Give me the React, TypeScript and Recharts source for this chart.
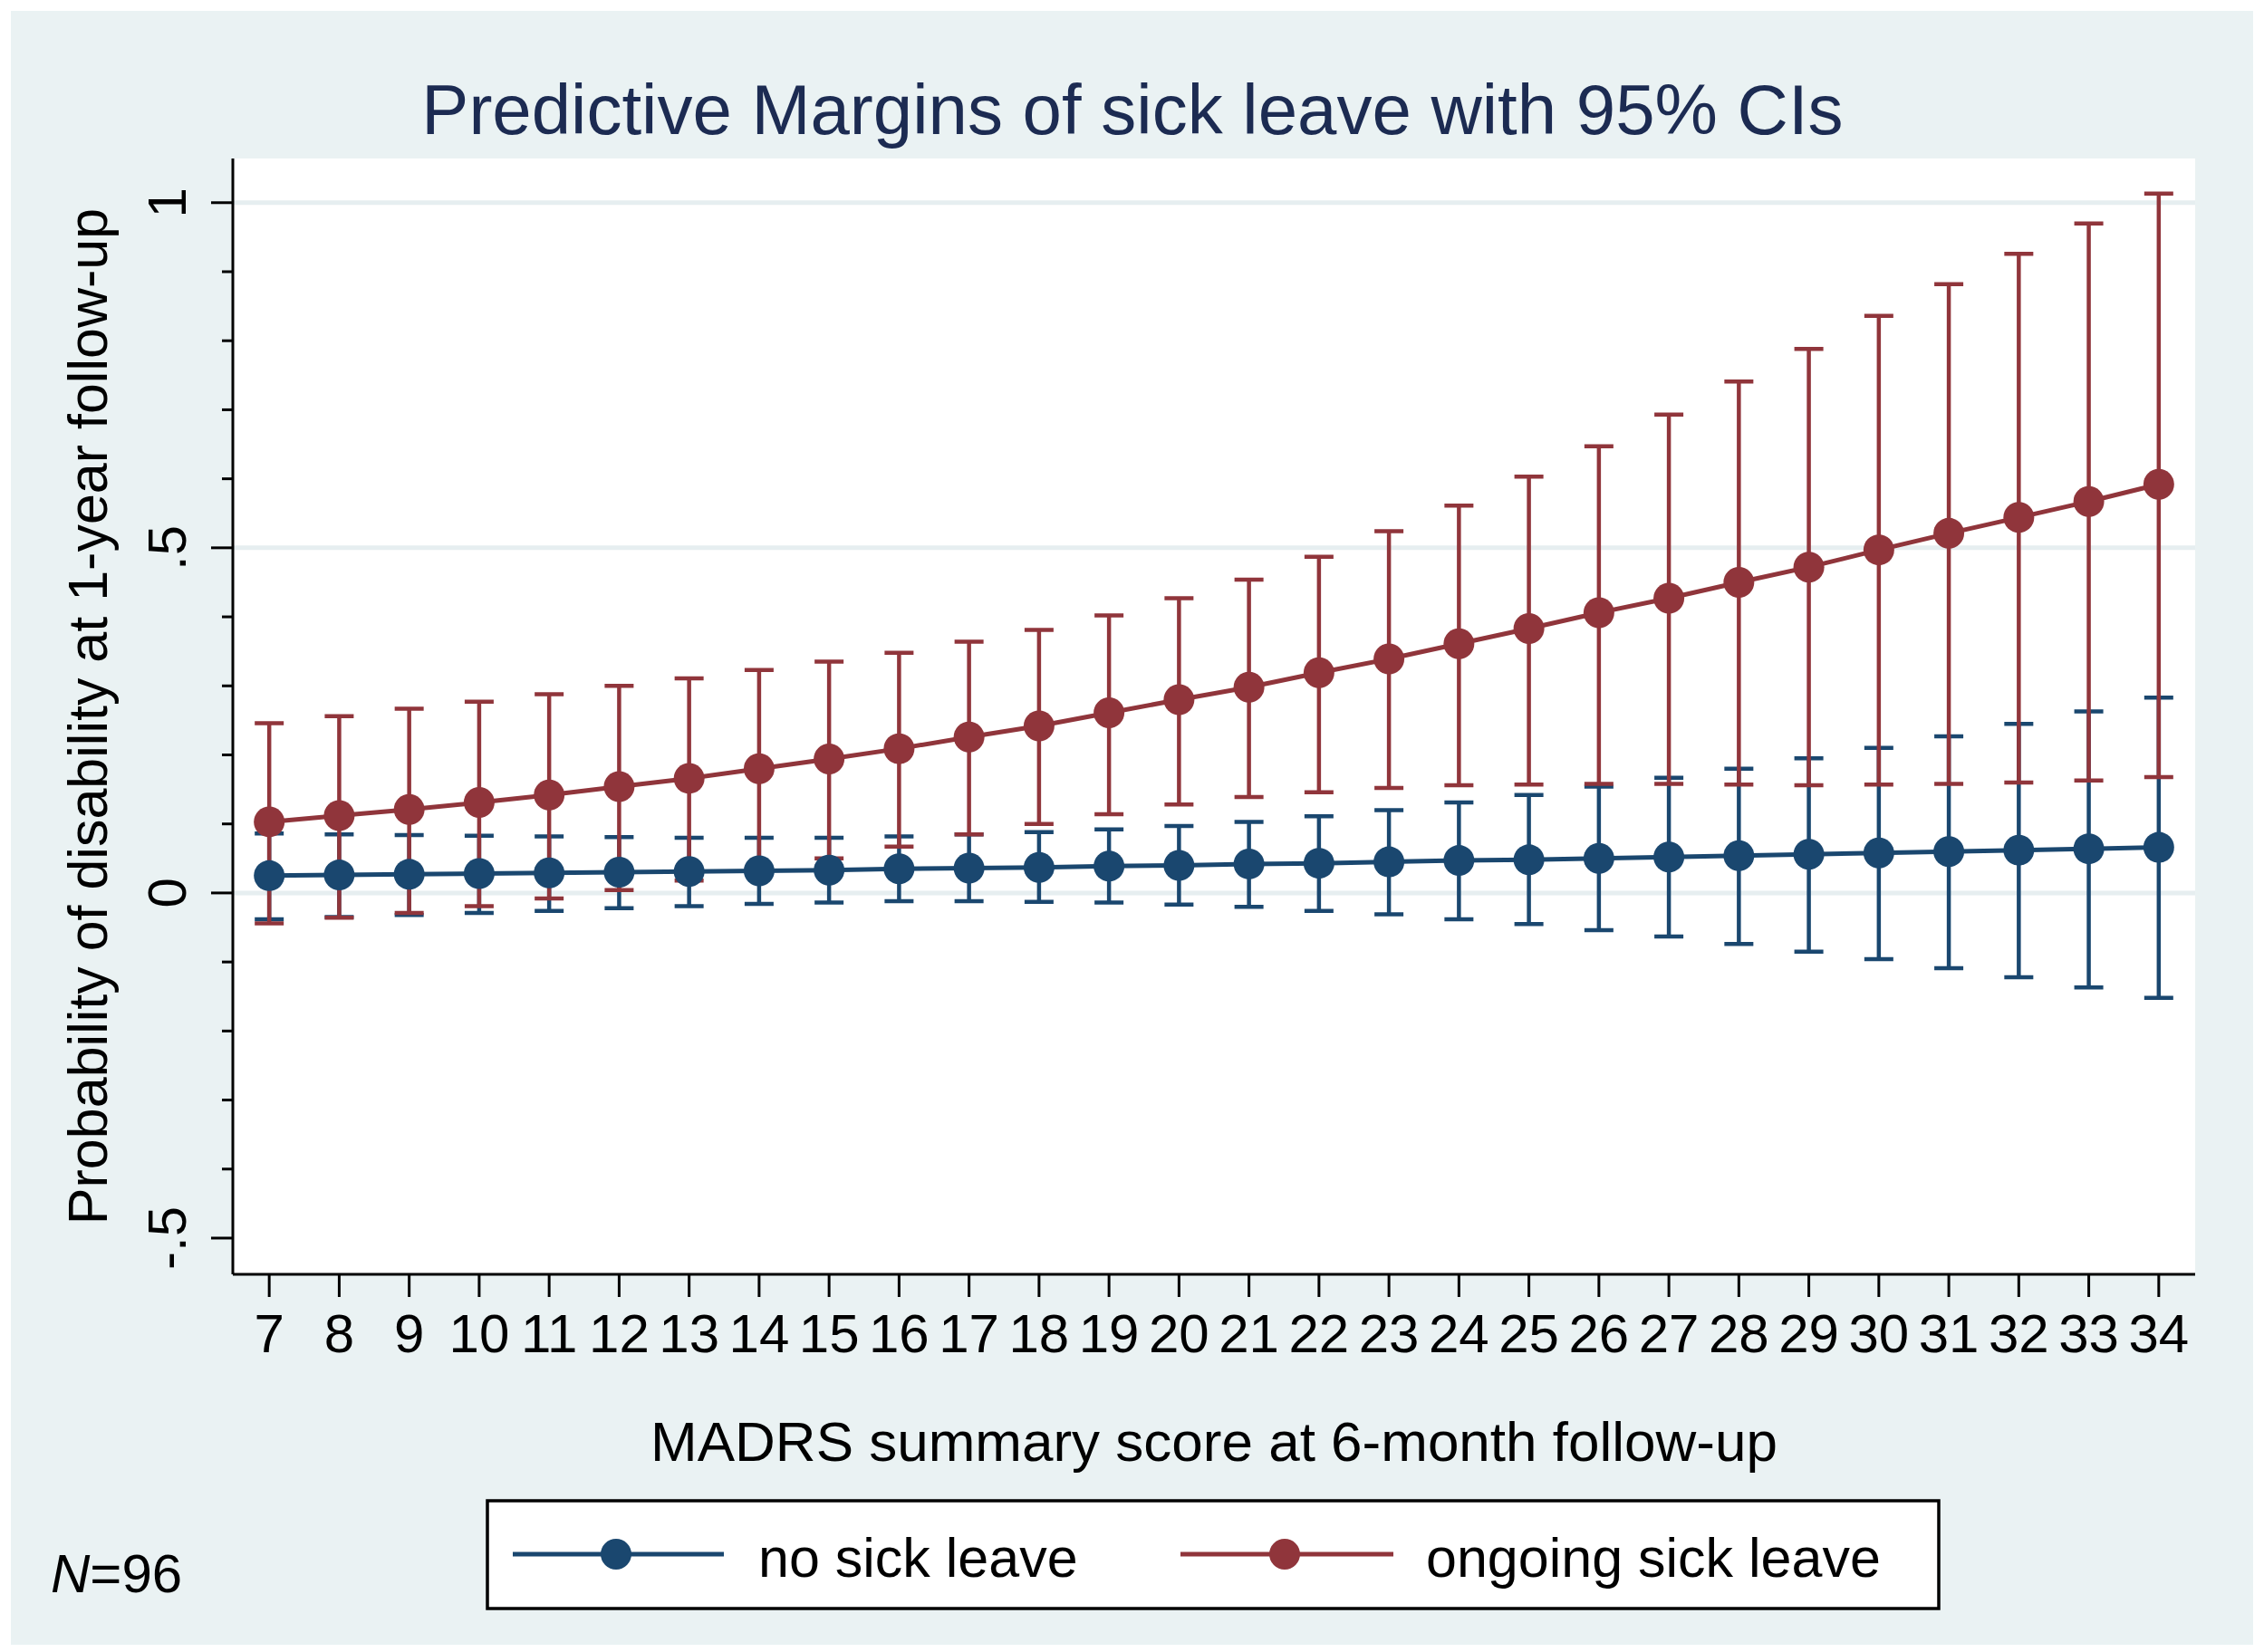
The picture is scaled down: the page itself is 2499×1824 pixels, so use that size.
import { ComposedChart, Line, ErrorBar, XAxis, YAxis, CartesianGrid } from "recharts";

// MADRS summary score at 6-month follow-up
const scores = [7, 8, 9, 10, 11, 12, 13, 14, 15, 16, 17, 18, 19, 20, 21, 22, 23, 24, 25, 26, 27, 28, 29, 30, 31, 32, 33, 34];

// no sick leave: margin and 95% CI
const noSickLeave = [0.025, 0.026, 0.027, 0.028, 0.029, 0.030, 0.031, 0.032, 0.033, 0.035, 0.036, 0.037, 0.039, 0.040, 0.042, 0.043, 0.045, 0.047, 0.048, 0.050, 0.052, 0.054, 0.056, 0.058, 0.060, 0.062, 0.064, 0.066];
const noSickLeaveLow = [-0.038, -0.035, -0.032, -0.029, -0.026, -0.022, -0.019, -0.016, -0.014, -0.012, -0.012, -0.013, -0.014, -0.017, -0.020, -0.026, -0.031, -0.038, -0.045, -0.054, -0.063, -0.074, -0.085, -0.096, -0.109, -0.122, -0.137, -0.152];
const noSickLeaveHigh = [0.086, 0.085, 0.084, 0.083, 0.082, 0.081, 0.080, 0.080, 0.080, 0.082, 0.085, 0.088, 0.092, 0.097, 0.103, 0.111, 0.120, 0.131, 0.142, 0.154, 0.167, 0.180, 0.195, 0.210, 0.227, 0.245, 0.263, 0.283];

// ongoing sick leave: margin and 95% CI
const ongoingSickLeave = [0.103, 0.112, 0.121, 0.131, 0.142, 0.154, 0.166, 0.180, 0.194, 0.209, 0.226, 0.242, 0.261, 0.280, 0.298, 0.319, 0.339, 0.361, 0.383, 0.406, 0.427, 0.450, 0.472, 0.497, 0.521, 0.544, 0.567, 0.592];
const ongoingSickLeaveLow = [-0.044, -0.036, -0.029, -0.019, -0.008, 0.004, 0.018, 0.035, 0.050, 0.067, 0.085, 0.100, 0.114, 0.128, 0.139, 0.146, 0.152, 0.156, 0.157, 0.158, 0.158, 0.157, 0.156, 0.157, 0.158, 0.160, 0.163, 0.168];
const ongoingSickLeaveHigh = [0.246, 0.256, 0.267, 0.277, 0.288, 0.300, 0.311, 0.323, 0.335, 0.348, 0.364, 0.381, 0.402, 0.427, 0.454, 0.487, 0.524, 0.561, 0.603, 0.647, 0.693, 0.741, 0.788, 0.836, 0.882, 0.926, 0.970, 1.013];

const yTicks = [-0.5, -0.4, -0.3, -0.2, -0.1, 0, 0.1, 0.2, 0.3, 0.4, 0.5, 0.6, 0.7, 0.8, 0.9, 1];
const yMajorTicks = [-0.5, 0, 0.5, 1];
const yTickLabels = ["-.5", "0", ".5", "1"];
const gridValues = [0, 0.5, 1];

const BLUE = "#1a476f";
const RED = "#90353b";
const BG = "#eaf2f3";
const FONT = "'Liberation Sans', Arial, Helvetica, sans-serif";

const rows = scores.map((s, i) => ({
  score: s,
  none: noSickLeave[i],
  noneErr: [noSickLeave[i] - noSickLeaveLow[i], noSickLeaveHigh[i] - noSickLeave[i]],
  ongoing: ongoingSickLeave[i],
  ongoingErr: [ongoingSickLeave[i] - ongoingSickLeaveLow[i], ongoingSickLeaveHigh[i] - ongoingSickLeave[i]],
}));

function XTick({ x, y, payload }: any) {
  return (
    <g>
      <line x1={x} y1={y} x2={x} y2={y + 25} stroke="#000" strokeWidth={3} />
      <text x={x} y={y + 86} textAnchor="middle" fontSize={60} fontFamily={FONT} fill="#000">
        {payload.value}
      </text>
    </g>
  );
}

function YTick({ x, y, payload }: any) {
  const i = yMajorTicks.indexOf(payload.value);
  const major = i >= 0;
  return (
    <g>
      <line x1={x - (major ? 24 : 12)} y1={y} x2={x} y2={y} stroke="#000" strokeWidth={3} />
      {major && (
        <text
          x={x - 52}
          y={y}
          transform={`rotate(-90 ${x - 52} ${y})`}
          textAnchor="middle"
          fontSize={60}
          fontFamily={FONT}
          fill="#000"
        >
          {yTickLabels[i]}
        </text>
      )}
    </g>
  );
}

export default function App() {
  return (
    <div style={{ position: "absolute", left: 0, top: 0, width: 2499, height: 1824, background: "#fff" }}>
      <div style={{ position: "absolute", left: 12, top: 12, width: 2475, height: 1804, background: BG }} />
      <div style={{ position: "absolute", left: 0, top: 0 }}>
        <ComposedChart width={2499} height={1824} data={rows} margin={{ top: 175, right: 76, bottom: 357, left: 197 }}>
          <CartesianGrid
            vertical={false}
            horizontalValues={gridValues}
            stroke="#e6eef0"
            strokeWidth={5}
            fill="#fff"
            fillOpacity={1}
          />
          <XAxis
            dataKey="score"
            type="number"
            domain={[6.48, 34.52]}
            allowDataOverflow
            ticks={scores}
            interval={0}
            height={60}
            tickSize={0}
            tickMargin={0}
            tick={<XTick />}
            axisLine={{ stroke: "#000", strokeWidth: 3 }}
          />
          <YAxis
            type="number"
            domain={[-0.5525, 1.064]}
            allowDataOverflow
            ticks={yTicks}
            interval={0}
            width={60}
            tickSize={0}
            tickMargin={0}
            tick={<YTick />}
            axisLine={{ stroke: "#000", strokeWidth: 3 }}
          />
          <Line dataKey="none" stroke="none" dot={false} activeDot={false} legendType="none" isAnimationActive={false}>
            <ErrorBar dataKey="noneErr" direction="y" width={16} strokeWidth={4.5} stroke={BLUE} />
          </Line>
          <Line dataKey="ongoing" stroke="none" dot={false} activeDot={false} legendType="none" isAnimationActive={false}>
            <ErrorBar dataKey="ongoingErr" direction="y" width={16} strokeWidth={4.5} stroke={RED} />
          </Line>
          <Line
            dataKey="none"
            type="linear"
            stroke={BLUE}
            strokeWidth={5}
            dot={{ r: 17, fill: BLUE, stroke: BLUE, strokeWidth: 0 }}
            activeDot={false}
            isAnimationActive={false}
          />
          <Line
            dataKey="ongoing"
            type="linear"
            stroke={RED}
            strokeWidth={5}
            dot={{ r: 17, fill: RED, stroke: RED, strokeWidth: 0 }}
            activeDot={false}
            isAnimationActive={false}
          />
        </ComposedChart>
      </div>
      <svg
        width={2499}
        height={1824}
        style={{ position: "absolute", left: 0, top: 0, pointerEvents: "none" }}
        fontFamily={FONT}
      >
        <text x={1250} y={148} textAnchor="middle" fontSize={78} fill="#1c2b52">
          Predictive Margins of sick leave with 95% CIs
        </text>
        <text x={118} y={791} transform="rotate(-90 118 791)" textAnchor="middle" fontSize={61} fill="#000">
          Probability of disability at 1-year follow-up
        </text>
        <text x={1340} y={1613} textAnchor="middle" fontSize={62} fill="#000">
          MADRS summary score at 6-month follow-up
        </text>
        <rect x={538} y={1657} width={1602} height={119} fill="#fff" stroke="#000" strokeWidth={3.5} />
        <line x1={566} y1={1716} x2={799} y2={1716} stroke={BLUE} strokeWidth={5} />
        <circle cx={680} cy={1716} r={17} fill={BLUE} />
        <text x={837} y={1741} fontSize={61} fill="#000">no sick leave</text>
        <line x1={1303} y1={1716} x2={1538} y2={1716} stroke={RED} strokeWidth={5} />
        <circle cx={1418} cy={1716} r={17} fill={RED} />
        <text x={1574} y={1741} fontSize={61} fill="#000">ongoing sick leave</text>
        <text x={56} y={1758} fontSize={60} fill="#000">
          <tspan fontStyle="italic">N</tspan>=96
        </text>
      </svg>
    </div>
  );
}
